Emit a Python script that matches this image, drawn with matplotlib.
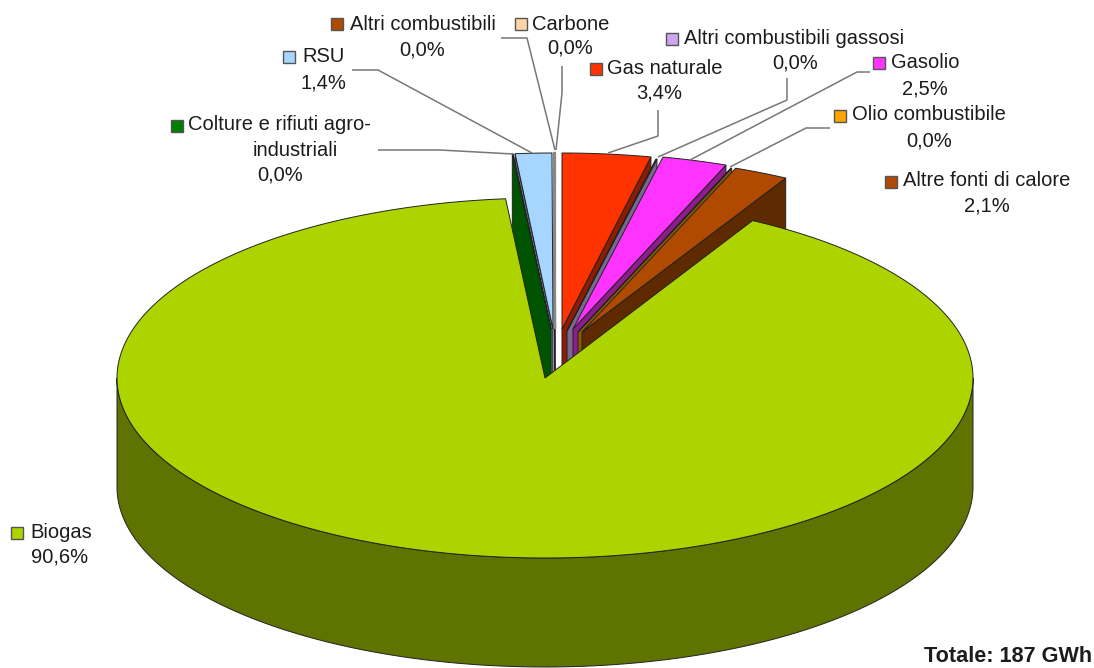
import numpy as np
import matplotlib
matplotlib.use("Agg")
import matplotlib.pyplot as plt
from matplotlib.patches import Polygon, Rectangle

plt.rcParams['font.family'] = ['Liberation Sans', 'DejaVu Sans']

# --- data (clockwise from 12 o'clock) ---
names = ["Gas naturale", "Altri combustibili gassosi", "Gasolio", "Olio combustibile",
         "Altre fonti di calore", "Biogas", "Colture e rifiuti agro-\nindustriali", "RSU",
         "Altri combustibili", "Carbone"]
values = [3.4, 0.04, 2.5, 0.03, 2.1, 90.6, 0.03, 1.4, 0.02, 0.02]
total_label = "Totale: 187 GWh"

# --- styles ---
top_colors = ["#FF3300", "#CCA6F0", "#FF33FF", "#FFA500", "#B04A00", "#AED400",
              "#008000", "#A6D5FF", "#B04A00", "#FFD5A6"]
wall_colors = ["#8E1C00", "#77688F", "#8E1C8E", "#8A5A00", "#5F2A00", "#5F7300",
               "#005400", "#5C7890", "#5F2A00", "#9A9A9A"]
# slice apex in pixels (exploded pie)
apex = [(562, 329), (567, 331), (573, 329), (578, 332), (582, 332), (545, 378),
        (551, 329), (553, 329), (555, 329), (555, 329)]
A, B, DEPTH = 428, 180, 109
A2, B2 = 420, 176
# label layout: swatch x,y ; text x,y ; pct centre x,y
layout = {
    "Gas naturale": ((596, 69), (607, 68), (659, 93)),
    "Altri combustibili gassosi": ((672, 39), (684, 39), (795, 63)),
    "Gasolio": ((879, 63), (891, 63), (925, 89)),
    "Olio combustibile": ((840, 116), (852, 115), (929, 141)),
    "Altre fonti di calore": ((891, 182), (903, 181), (987, 206)),
    "Biogas": ((17, 533), (30, 532), (60, 557)),
    "RSU": ((289, 57), (302, 57), (323, 83)),
    "Altri combustibili": ((337, 24), (350, 24), (422, 50)),
    "Carbone": ((521, 24), (532, 24), (570, 48)),
}
leaders = [
    [(352, 70), (378, 70), (532, 153)],
    [(501, 38), (527, 38), (555, 150)],
    [(562, 66), (562, 93), (556, 150)],
    [(658, 110), (658, 136), (608, 153)],
    [(787, 78), (787, 100), (658, 157)],
    [(870, 72), (857, 72), (690, 160)],
    [(830, 128), (806, 128), (730, 167)],
    [(378, 150), (440, 150), (513, 154)],
]

fig = plt.figure(figsize=(10.94, 6.68), dpi=100)
ax = fig.add_axes([0, 0, 1, 1])
ax.set_xlim(0, 1094)
ax.set_ylim(668, 0)
ax.axis("off")

EDGE = "#222222"
LW = 0.7


def rim(c, a, b, t0, t1, dy=0, n=200):
    t = np.radians(np.linspace(t0, t1, n))
    return np.column_stack([c[0] + a * np.cos(t), c[1] - b * np.sin(t) + dy])


def fmt(v):
    return f"{v:.1f}%".replace(".", ",")


# cumulative angles
spans = np.array(values) / np.sum(values) * 360
ends = 90 - np.cumsum(spans)
starts = ends + spans
biogas = names.index("Biogas")

# draw order: left-hand slices, right-hand slices, biogas last
order = [9, 8, 7, 6, 0, 1, 2, 3, 4]
for i in order:
    c = apex[i]
    s, e = starts[i] % 360, ends[i] % 360
    if e > s:
        e -= 360
    # radial wall facing the viewer
    edge_ang = e if i < biogas else s
    p = rim(c, A2, B2, edge_ang, edge_ang, n=1)[0]
    ax.add_patch(Polygon([c, p, (p[0], p[1] + DEPTH), (c[0], c[1] + DEPTH)],
                         closed=True, fc=wall_colors[i], ec=EDGE, lw=LW, zorder=2))
    pts = np.vstack([[c], rim(c, A2, B2, s, e)])
    ecol = "#888888" if i >= 8 else EDGE
    ax.add_patch(Polygon(pts, closed=True, fc=top_colors[i], ec=ecol,
                         lw=1.6 if i >= 8 else LW, zorder=2))

# biogas
c = apex[biogas]
front = rim(c, A, B, 180, 360)
side = np.vstack([front, front[::-1] + [0, DEPTH]])
ax.add_patch(Polygon(side, closed=True, fc=wall_colors[biogas], ec=EDGE, lw=LW, zorder=3))
pts = np.vstack([[c], rim(c, A, B, ends[biogas], ends[biogas] + spans[biogas], n=600)])
ax.add_patch(Polygon(pts, closed=True, fc=top_colors[biogas], ec=EDGE, lw=LW, zorder=4))

# leader lines
for l in leaders:
    xs, ys = zip(*l)
    ax.plot(xs, ys, color="#777777", lw=1.1, zorder=5, solid_capstyle="butt")

# labels
FS = 14.5
TC = "#1c1c1c"
vals = dict(zip(names, values))
cols = dict(zip(names, top_colors))


def swatch(x, y, col):
    ax.add_patch(Rectangle((x - 6, y - 6), 12, 12, fc=col, ec="#555555", lw=1.0, zorder=6))


for name, (sw, tx, pc) in layout.items():
    swatch(*sw, cols[name])
    ax.text(tx[0], tx[1], name, fontsize=FS, color=TC, ha="left", va="center", zorder=6)
    ax.text(pc[0], pc[1], fmt(vals[name]), fontsize=FS, color=TC, ha="center", va="center", zorder=6)

n = names[6]
first, second = n.split("\n")
swatch(177, 126, cols[n])
ax.text(188, 125, first, fontsize=FS, color=TC, ha="left", va="center", zorder=6)
ax.text(295, 150, second, fontsize=FS, color=TC, ha="center", va="center", zorder=6)
ax.text(280, 175, fmt(vals[n]), fontsize=FS, color=TC, ha="center", va="center", zorder=6)

ax.text(1092, 657, total_label, fontsize=15.6, fontweight="bold", color=TC, ha="right", va="center", zorder=6)

fig.savefig("out.png", dpi=100)
